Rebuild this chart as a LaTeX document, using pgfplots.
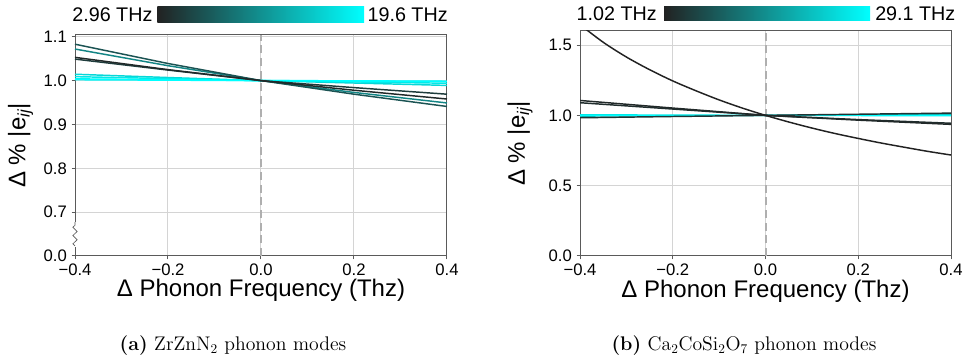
\documentclass[border=0pt]{standalone}
\usepackage{pgfplots}
\pgfplotsset{compat=1.18}
\usepackage{fontspec}
\setsansfont{Liberation Sans}
\newfontfamily\arial{Liberation Sans}
\usetikzlibrary{decorations.pathmorphing}
\definecolor{cmin}{RGB}{34,34,34}
\definecolor{cmax}{RGB}{0,255,255}
\definecolor{spine}{RGB}{90,90,90}
\definecolor{gridc}{RGB}{212,212,212}
\definecolor{dashc}{RGB}{175,175,175}
\pgfplotsset{
  myaxis/.style={
    scale only axis,
    xmin=-0.4, xmax=0.4,
    xtick={-0.4,-0.2,0,0.2,0.4},
    xticklabels={−0.4,−0.2,0.0,0.2,0.4},
    grid=major,
    major grid style={gridc, line width=0.75pt},
    axis line style={spine, line width=0.75pt},
    tick style={spine, line width=0.75pt},
    tick align=outside,
    tick pos=left,
    major tick length=2.6pt,
    ticklabel style={font=\arial\fontsize{12.5}{14}\selectfont, text=black},
    xlabel={Δ Phonon Frequency (Thz)},
    ylabel={Δ \% |e\textsubscript{\itshape ij}|},
    label style={font=\arial\fontsize{18}{21}\selectfont},
    every axis plot/.append style={line width=1.1pt, no marks},
  }
}
\begin{document}
\begin{tikzpicture}
\useasboundingbox (0,0) rectangle (728.25pt,273pt);
% ---------------- left panel ----------------
\begin{axis}[myaxis,
  at={(56.25pt,81pt)}, anchor=south west,
  width=279pt, height=165.75pt,
  ymin=0.6, ymax=1.104,
  ytick={0.6,0.7,0.8,0.9,1.0,1.1},
  yticklabels={0.0,0.7,0.8,0.9,1.0,1.1},
  xlabel style={at={(axis description cs:0.5,-0.157)}, anchor=center},
  ylabel style={at={(axis description cs:-0.1465,0.5)}, anchor=center},
  clip=false,
]
\addplot[dashc, line width=1.5pt, dash pattern=on 6pt off 3.5pt] coordinates {(0,0.6) (0,1.104)};
\addplot[cmax!82!cmin] coordinates {(-0.4,1.0145) (-0.2,1.007) (0,1.0) (0.2,0.9945) (0.4,0.989)};
\addplot[cmax!90!cmin] coordinates {(-0.4,1.009) (-0.2,1.0045) (0,1.0) (0.2,0.997) (0.4,0.994)};
\addplot[cmax!96!cmin] coordinates {(-0.4,1.004) (-0.2,1.002) (0,1.0) (0.2,0.999) (0.4,0.998)};
\addplot[cmax!100!cmin] coordinates {(-0.4,1.002) (-0.2,1.001) (0,1.0) (0.2,0.9995) (0.4,0.9985)};
\addplot[cmax!45!cmin] coordinates {(-0.4,1.072) (-0.2,1.034) (0,1.0) (0.2,0.973) (0.4,0.949)};
\addplot[cmax!22!cmin] coordinates {(-0.4,1.083) (-0.2,1.039) (0,1.0) (0.2,0.969) (0.4,0.941)};
\addplot[cmax!12!cmin] coordinates {(-0.4,1.049) (-0.2,1.024) (0,1.0) (0.2,0.984) (0.4,0.969)};
\addplot[cmax!3!cmin] coordinates {(-0.4,1.053) (-0.2,1.025) (0,1.0) (0.2,0.978) (0.4,0.958)};
% broken-axis mark
\draw[white, line width=3pt] (axis cs:-0.4,0.621) -- (axis cs:-0.4,0.678);
\draw[spine, line width=0.5pt, decorate, decoration={zigzag, segment length=6.2pt, amplitude=1.6pt}]
  (axis cs:-0.4,0.623) -- (axis cs:-0.4,0.677);
\end{axis}
% ---------------- right panel ----------------
\begin{axis}[myaxis,
  at={(435pt,81pt)}, anchor=south west,
  width=278.25pt, height=168.75pt,
  ymin=0, ymax=1.6,
  ytick={0,0.5,1.0,1.5},
  yticklabels={0.0,0.5,1.0,1.5},
  xlabel style={at={(axis description cs:0.5,-0.155)}, anchor=center},
  ylabel style={at={(axis description cs:-0.1617,0.5)}, anchor=center},
]
\addplot[dashc, line width=1.5pt, dash pattern=on 6pt off 3.5pt] coordinates {(0,0) (0,1.6)};
\addplot[cmax!70!cmin] coordinates {(-0.4,0.995) (-0.2,0.9975) (0,1.0) (0.2,1.0035) (0.4,1.007)};
\addplot[cmax!90!cmin] coordinates {(-0.4,1.004) (-0.2,1.002) (0,1.0) (0.2,0.999) (0.4,0.998)};
\addplot[cmax!100!cmin] coordinates {(-0.4,1.0) (-0.2,1.0) (0,1.0) (0.2,1.0) (0.4,1.0)};
\addplot[cmax!8!cmin] coordinates {(-0.4,0.983) (-0.2,0.992) (0,1.0) (0.2,1.008) (0.4,1.016)};
\addplot[cmax!5!cmin] coordinates {(-0.4,1.090) (-0.2,1.045) (0,1.0) (0.2,0.970) (0.4,0.944)};
\addplot[cmax!3!cmin] coordinates {(-0.4,1.106) (-0.2,1.052) (0,1.0) (0.2,0.966) (0.4,0.936)};
\addplot[cmax!0!cmin, smooth] coordinates {(-0.4,1.645) (-0.35,1.52) (-0.3,1.415) (-0.25,1.325) (-0.2,1.245) (-0.15,1.175) (-0.1,1.11) (-0.05,1.052) (0,1.0) (0.05,0.953) (0.1,0.91) (0.15,0.871) (0.2,0.836) (0.25,0.803) (0.3,0.773) (0.35,0.744) (0.4,0.718)};
\end{axis}
% ---------------- colour bars ----------------
\shade[left color=cmin, right color=cmax, middle color=cmax!50!cmin] (118.1pt,256.1pt) rectangle (273pt,267.75pt);
\shade[left color=cmin, right color=cmax, middle color=cmax!50!cmin] (498pt,257.5pt) rectangle (652.5pt,268pt);
\begin{scope}[every node/.style={inner sep=0pt, font=\arial\fontsize{14.8}{17}\selectfont}]
\node[anchor=east] at (114.5pt,262pt) {2.96 THz};
\node[anchor=west] at (275.5pt,262pt) {19.6 THz};
\node[anchor=east] at (492.75pt,262.7pt) {1.02 THz};
\node[anchor=west] at (656.25pt,262.7pt) {29.1 THz};
\end{scope}
% ---------------- captions ----------------
\node[inner sep=0pt] at (174.75pt,13.5pt) {\fontsize{14.8}{17}\selectfont\textbf{(a)} ZrZnN$_2$ phonon modes};
\node[inner sep=0pt] at (558pt,13.5pt) {\fontsize{14.8}{17}\selectfont\textbf{(b)} Ca$_2$CoSi$_2$O$_7$ phonon modes};
\end{tikzpicture}
\end{document}
